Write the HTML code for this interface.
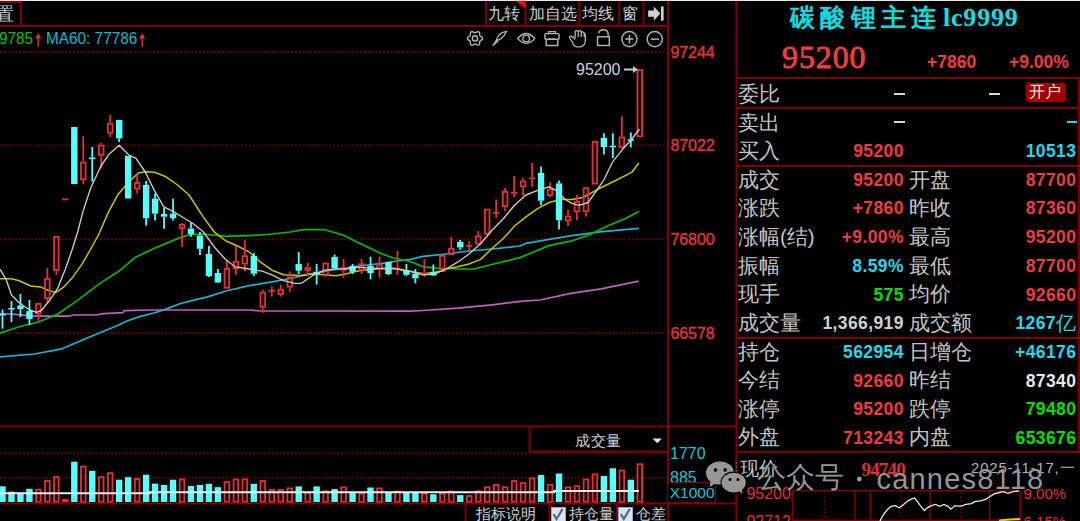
<!DOCTYPE html>
<html><head><meta charset="utf-8">
<style>
html,body{margin:0;padding:0;background:#000;}
body{width:1080px;height:521px;overflow:hidden;position:relative;font-family:"Liberation Sans",sans-serif;}
svg{position:absolute;left:0;top:0;}
.t{position:absolute;white-space:nowrap;line-height:1;}
.lb{color:#c4c4c4;font-size:20.5px;font-weight:200;}
.n{font-weight:bold;font-size:17.5px;letter-spacing:0.4px;}
.r{color:#f03c3c} .cy{color:#22d8f0} .g{color:#00e000} .w{color:#e8e8e8} .gy{color:#d0d0d0}
</style></head><body>
<svg width="1080" height="521" viewBox="0 0 1080 521">
<line x1="0" y1="52" x2="668" y2="52" stroke="#600000" stroke-width="1.9" stroke-dasharray="1.9 1.93"/>
<line x1="0" y1="145.5" x2="668" y2="145.5" stroke="#600000" stroke-width="1.9" stroke-dasharray="1.9 1.93"/>
<line x1="0" y1="239.3" x2="668" y2="239.3" stroke="#600000" stroke-width="1.9" stroke-dasharray="1.9 1.93"/>
<line x1="0" y1="333" x2="668" y2="333" stroke="#600000" stroke-width="1.9" stroke-dasharray="1.9 1.93"/>
<line x1="0" y1="453.3" x2="668" y2="453.3" stroke="#600000" stroke-width="1.9" stroke-dasharray="1.9 1.93"/>
<line x1="0" y1="477.8" x2="668" y2="477.8" stroke="#600000" stroke-width="1.9" stroke-dasharray="1.9 1.93"/>
<polyline points="0.0,356.8 34.5,354.0 62.0,348.8 92.0,336.0 118.8,325.0 126.9,321.0 140.3,316.4 153.8,313.0 164.5,309.6 180.6,303.5 194.0,300.2 207.5,296.9 226.0,291.0 249.0,285.7 272.0,281.8 290.0,278.5 313.0,273.4 336.0,269.5 359.0,266.0 382.0,263.3 393.6,261.5 410.0,259.5 423.0,256.4 446.0,254.0 469.0,251.0 492.0,249.0 520.0,246.0 526.0,243.3 549.0,239.4 572.0,235.7 600.0,231.8 638.8,228.3" fill="none" stroke="#1ab4d0" stroke-width="1.7" stroke-linejoin="round"/>
<polyline points="0.0,313.5 15.4,314.3 34.5,316.2 69.0,316.2 73.0,315.0 96.0,315.0 103.6,313.7 122.8,312.7 124.2,310.7 151.0,310.0 249.0,310.0 260.6,311.0 300.0,311.0 410.0,311.2 423.0,310.5 457.6,308.2 492.0,304.8 520.0,301.3 540.0,300.0 570.7,293.4 601.3,288.8 638.8,281.1" fill="none" stroke="#c060c0" stroke-width="1.7" stroke-linejoin="round"/>
<polyline points="0.0,333.2 19.2,326.8 38.4,322.0 57.6,314.3 76.8,300.9 100.0,283.4 118.8,271.3 135.0,257.6 154.5,248.2 177.6,238.6 189.0,234.9 203.0,234.0 226.0,236.4 249.0,235.7 272.0,234.0 290.0,232.0 303.8,229.7 324.5,229.7 343.0,235.0 359.0,243.0 382.0,254.0 393.6,258.0 410.0,261.5 423.0,266.8 434.5,268.0 457.6,269.0 473.7,269.0 492.0,264.5 520.0,257.6 549.0,245.6 570.7,241.2 589.0,235.0 607.5,226.0 626.0,218.2 638.8,211.5" fill="none" stroke="#00bc00" stroke-width="1.7" stroke-linejoin="round"/>
<polyline points="0.0,278.8 11.5,278.8 19.2,280.7 30.7,286.0 40.3,286.9 48.0,290.3 55.7,292.6 63.3,287.4 73.0,276.9 82.5,263.4 90.2,250.0 98.4,235.0 108.8,211.4 117.9,194.6 129.2,181.5 138.4,173.0 145.3,171.8 154.5,172.2 166.0,176.8 177.6,185.0 189.0,195.0 203.0,216.6 214.5,232.2 226.0,241.0 237.6,246.0 249.0,251.8 260.6,262.2 272.0,270.2 283.6,274.8 300.0,275.5 313.0,274.0 324.5,274.8 336.0,275.7 347.6,273.4 359.0,270.7 370.6,269.5 382.0,268.8 393.6,268.4 411.5,271.4 423.0,273.7 434.5,272.5 446.0,269.0 457.6,266.8 469.0,264.0 480.6,259.4 492.0,248.5 503.3,238.5 514.5,226.0 526.0,216.8 537.6,208.7 549.0,202.5 560.6,199.5 572.0,199.5 583.6,197.2 601.3,187.5 616.7,180.0 632.0,172.2 638.8,163.0" fill="none" stroke="#d0c000" stroke-width="1.5" stroke-linejoin="round"/>
<line x1="2.50" y1="309.5" x2="2.50" y2="314" stroke="#55ffff" stroke-width="1.8"/>
<line x1="2.50" y1="315.5" x2="2.50" y2="328.7" stroke="#55ffff" stroke-width="1.8"/>
<rect x="-0.70" y="314" width="6.4" height="1.6" fill="#55ffff"/>
<line x1="11.48" y1="301" x2="11.48" y2="308" stroke="#55ffff" stroke-width="1.8"/>
<line x1="11.48" y1="309.5" x2="11.48" y2="322" stroke="#55ffff" stroke-width="1.8"/>
<rect x="8.28" y="308" width="6.4" height="1.6" fill="#55ffff"/>
<line x1="20.45" y1="294" x2="20.45" y2="305.5" stroke="#55ffff" stroke-width="1.8"/>
<line x1="20.45" y1="309" x2="20.45" y2="317" stroke="#55ffff" stroke-width="1.8"/>
<rect x="17.25" y="305.5" width="6.4" height="3.5" fill="#55ffff"/>
<line x1="29.43" y1="300" x2="29.43" y2="311" stroke="#55ffff" stroke-width="1.8"/>
<line x1="29.43" y1="319" x2="29.43" y2="325" stroke="#55ffff" stroke-width="1.8"/>
<rect x="26.23" y="311" width="6.4" height="8.0" fill="#55ffff"/>
<line x1="38.40" y1="314.6" x2="38.40" y2="321" stroke="#e83030" stroke-width="1.8"/>
<rect x="36.10" y="303.9" width="4.6" height="9.8" fill="none" stroke="#e83030" stroke-width="1.8"/>
<line x1="47.38" y1="268" x2="47.38" y2="278" stroke="#e83030" stroke-width="1.8"/>
<line x1="47.38" y1="299" x2="47.38" y2="303" stroke="#e83030" stroke-width="1.8"/>
<rect x="45.08" y="278.9" width="4.6" height="19.2" fill="none" stroke="#e83030" stroke-width="1.8"/>
<line x1="56.36" y1="271" x2="56.36" y2="275" stroke="#e83030" stroke-width="1.8"/>
<rect x="54.06" y="236.9" width="4.6" height="33.2" fill="none" stroke="#e83030" stroke-width="1.8"/>
<rect x="62.13" y="198.5" width="6.4" height="1.8" fill="#e83030"/>
<rect x="71.11" y="127" width="6.4" height="57.0" fill="#55ffff"/>
<line x1="83.28" y1="136" x2="83.28" y2="161.7" stroke="#e83030" stroke-width="1.8"/>
<line x1="83.28" y1="180.3" x2="83.28" y2="184" stroke="#e83030" stroke-width="1.8"/>
<rect x="80.98" y="162.6" width="4.6" height="16.8" fill="none" stroke="#e83030" stroke-width="1.8"/>
<line x1="92.26" y1="147" x2="92.26" y2="157.5" stroke="#55ffff" stroke-width="1.8"/>
<line x1="92.26" y1="159" x2="92.26" y2="181.6" stroke="#55ffff" stroke-width="1.8"/>
<rect x="89.06" y="157.5" width="6.4" height="1.6" fill="#55ffff"/>
<line x1="101.24" y1="142.8" x2="101.24" y2="144.6" stroke="#e83030" stroke-width="1.8"/>
<line x1="101.24" y1="155.7" x2="101.24" y2="168.7" stroke="#e83030" stroke-width="1.8"/>
<rect x="98.94" y="145.5" width="4.6" height="9.3" fill="none" stroke="#e83030" stroke-width="1.8"/>
<line x1="110.21" y1="115" x2="110.21" y2="122.8" stroke="#e83030" stroke-width="1.8"/>
<line x1="110.21" y1="133.7" x2="110.21" y2="137" stroke="#e83030" stroke-width="1.8"/>
<rect x="107.91" y="123.7" width="4.6" height="9.1" fill="none" stroke="#e83030" stroke-width="1.8"/>
<line x1="119.19" y1="138.4" x2="119.19" y2="142" stroke="#55ffff" stroke-width="1.8"/>
<rect x="115.99" y="120" width="6.4" height="18.4" fill="#55ffff"/>
<rect x="124.96" y="155.7" width="6.4" height="42.8" fill="#55ffff"/>
<line x1="137.14" y1="174.5" x2="137.14" y2="182" stroke="#e83030" stroke-width="1.8"/>
<line x1="137.14" y1="189.5" x2="137.14" y2="193.4" stroke="#e83030" stroke-width="1.8"/>
<rect x="134.84" y="182.9" width="4.6" height="5.7" fill="none" stroke="#e83030" stroke-width="1.8"/>
<line x1="146.12" y1="181" x2="146.12" y2="185" stroke="#55ffff" stroke-width="1.8"/>
<line x1="146.12" y1="218.3" x2="146.12" y2="225.7" stroke="#55ffff" stroke-width="1.8"/>
<rect x="142.92" y="185" width="6.4" height="33.3" fill="#55ffff"/>
<line x1="155.09" y1="193.4" x2="155.09" y2="198.7" stroke="#55ffff" stroke-width="1.8"/>
<line x1="155.09" y1="213.7" x2="155.09" y2="220.6" stroke="#55ffff" stroke-width="1.8"/>
<rect x="151.89" y="198.7" width="6.4" height="15.0" fill="#55ffff"/>
<line x1="164.07" y1="208" x2="164.07" y2="214" stroke="#55ffff" stroke-width="1.8"/>
<line x1="164.07" y1="216.7" x2="164.07" y2="228.7" stroke="#55ffff" stroke-width="1.8"/>
<rect x="160.87" y="214" width="6.4" height="2.7" fill="#55ffff"/>
<line x1="173.04" y1="198.7" x2="173.04" y2="213.7" stroke="#55ffff" stroke-width="1.8"/>
<line x1="173.04" y1="218.3" x2="173.04" y2="220.6" stroke="#55ffff" stroke-width="1.8"/>
<rect x="169.84" y="213.7" width="6.4" height="4.6" fill="#55ffff"/>
<line x1="182.02" y1="223" x2="182.02" y2="224" stroke="#e83030" stroke-width="1.8"/>
<line x1="182.02" y1="229" x2="182.02" y2="247" stroke="#e83030" stroke-width="1.8"/>
<rect x="179.72" y="224.9" width="4.6" height="3.2" fill="none" stroke="#e83030" stroke-width="1.8"/>
<line x1="191.00" y1="223" x2="191.00" y2="228.5" stroke="#55ffff" stroke-width="1.8"/>
<line x1="191.00" y1="234" x2="191.00" y2="236.8" stroke="#55ffff" stroke-width="1.8"/>
<rect x="187.80" y="228.5" width="6.4" height="5.5" fill="#55ffff"/>
<line x1="199.97" y1="232" x2="199.97" y2="235.6" stroke="#55ffff" stroke-width="1.8"/>
<line x1="199.97" y1="248.8" x2="199.97" y2="255" stroke="#55ffff" stroke-width="1.8"/>
<rect x="196.77" y="235.6" width="6.4" height="13.2" fill="#55ffff"/>
<line x1="208.95" y1="246" x2="208.95" y2="254" stroke="#55ffff" stroke-width="1.8"/>
<line x1="208.95" y1="276" x2="208.95" y2="277" stroke="#55ffff" stroke-width="1.8"/>
<rect x="205.75" y="254" width="6.4" height="22.0" fill="#55ffff"/>
<line x1="217.92" y1="269" x2="217.92" y2="273" stroke="#55ffff" stroke-width="1.8"/>
<line x1="217.92" y1="282.5" x2="217.92" y2="283" stroke="#55ffff" stroke-width="1.8"/>
<rect x="214.72" y="273" width="6.4" height="9.5" fill="#55ffff"/>
<line x1="226.90" y1="260" x2="226.90" y2="268" stroke="#e83030" stroke-width="1.8"/>
<rect x="224.60" y="268.9" width="4.6" height="18.9" fill="none" stroke="#e83030" stroke-width="1.8"/>
<line x1="235.88" y1="246" x2="235.88" y2="261" stroke="#e83030" stroke-width="1.8"/>
<line x1="235.88" y1="269" x2="235.88" y2="274.8" stroke="#e83030" stroke-width="1.8"/>
<rect x="233.58" y="261.9" width="4.6" height="6.2" fill="none" stroke="#e83030" stroke-width="1.8"/>
<line x1="244.85" y1="240.3" x2="244.85" y2="255.3" stroke="#e83030" stroke-width="1.8"/>
<line x1="244.85" y1="264.5" x2="244.85" y2="271.4" stroke="#e83030" stroke-width="1.8"/>
<rect x="242.55" y="256.2" width="4.6" height="7.4" fill="none" stroke="#e83030" stroke-width="1.8"/>
<line x1="253.83" y1="253" x2="253.83" y2="255.7" stroke="#55ffff" stroke-width="1.8"/>
<line x1="253.83" y1="273.7" x2="253.83" y2="276" stroke="#55ffff" stroke-width="1.8"/>
<rect x="250.63" y="255.7" width="6.4" height="18.0" fill="#55ffff"/>
<line x1="262.80" y1="289.8" x2="262.80" y2="291.7" stroke="#e83030" stroke-width="1.8"/>
<line x1="262.80" y1="307.8" x2="262.80" y2="312.8" stroke="#e83030" stroke-width="1.8"/>
<rect x="260.50" y="292.6" width="4.6" height="14.3" fill="none" stroke="#e83030" stroke-width="1.8"/>
<line x1="271.78" y1="286.4" x2="271.78" y2="290" stroke="#e83030" stroke-width="1.8"/>
<line x1="271.78" y1="291.5" x2="271.78" y2="296.7" stroke="#e83030" stroke-width="1.8"/>
<rect x="268.58" y="290" width="6.4" height="1.8" fill="#e83030"/>
<line x1="280.76" y1="284.8" x2="280.76" y2="288.7" stroke="#e83030" stroke-width="1.8"/>
<line x1="280.76" y1="295" x2="280.76" y2="296.7" stroke="#e83030" stroke-width="1.8"/>
<rect x="278.46" y="289.6" width="4.6" height="4.5" fill="none" stroke="#e83030" stroke-width="1.8"/>
<line x1="289.73" y1="271.4" x2="289.73" y2="276.5" stroke="#e83030" stroke-width="1.8"/>
<line x1="289.73" y1="287.5" x2="289.73" y2="292" stroke="#e83030" stroke-width="1.8"/>
<rect x="287.43" y="277.4" width="4.6" height="9.2" fill="none" stroke="#e83030" stroke-width="1.8"/>
<line x1="298.71" y1="252" x2="298.71" y2="264" stroke="#55ffff" stroke-width="1.8"/>
<line x1="298.71" y1="270.7" x2="298.71" y2="274" stroke="#55ffff" stroke-width="1.8"/>
<rect x="295.51" y="264" width="6.4" height="6.7" fill="#55ffff"/>
<line x1="307.68" y1="262.6" x2="307.68" y2="267.2" stroke="#e83030" stroke-width="1.8"/>
<line x1="307.68" y1="271" x2="307.68" y2="275.3" stroke="#e83030" stroke-width="1.8"/>
<rect x="305.38" y="268.1" width="4.6" height="2.0" fill="none" stroke="#e83030" stroke-width="1.8"/>
<line x1="316.66" y1="263.8" x2="316.66" y2="271.8" stroke="#55ffff" stroke-width="1.8"/>
<line x1="316.66" y1="274.8" x2="316.66" y2="284.5" stroke="#55ffff" stroke-width="1.8"/>
<rect x="313.46" y="271.8" width="6.4" height="3.0" fill="#55ffff"/>
<rect x="323.34" y="263.5" width="4.6" height="12.0" fill="none" stroke="#e83030" stroke-width="1.8"/>
<line x1="334.61" y1="254.5" x2="334.61" y2="256.8" stroke="#55ffff" stroke-width="1.8"/>
<line x1="334.61" y1="268.4" x2="334.61" y2="269.5" stroke="#55ffff" stroke-width="1.8"/>
<rect x="331.41" y="256.8" width="6.4" height="11.6" fill="#55ffff"/>
<line x1="343.59" y1="259" x2="343.59" y2="267.2" stroke="#e83030" stroke-width="1.8"/>
<line x1="343.59" y1="270.7" x2="343.59" y2="277.6" stroke="#e83030" stroke-width="1.8"/>
<rect x="341.29" y="268.1" width="4.6" height="1.7" fill="none" stroke="#e83030" stroke-width="1.8"/>
<line x1="352.56" y1="264" x2="352.56" y2="266" stroke="#55ffff" stroke-width="1.8"/>
<line x1="352.56" y1="271.8" x2="352.56" y2="274" stroke="#55ffff" stroke-width="1.8"/>
<rect x="349.36" y="266" width="6.4" height="5.8" fill="#55ffff"/>
<line x1="361.54" y1="259" x2="361.54" y2="263.3" stroke="#e83030" stroke-width="1.8"/>
<line x1="361.54" y1="270.7" x2="361.54" y2="274" stroke="#e83030" stroke-width="1.8"/>
<rect x="359.24" y="264.2" width="4.6" height="5.6" fill="none" stroke="#e83030" stroke-width="1.8"/>
<line x1="370.52" y1="256.8" x2="370.52" y2="266" stroke="#55ffff" stroke-width="1.8"/>
<line x1="370.52" y1="273" x2="370.52" y2="279.4" stroke="#55ffff" stroke-width="1.8"/>
<rect x="367.32" y="266" width="6.4" height="7.0" fill="#55ffff"/>
<line x1="379.49" y1="256.4" x2="379.49" y2="264" stroke="#e83030" stroke-width="1.8"/>
<line x1="379.49" y1="269.5" x2="379.49" y2="277.6" stroke="#e83030" stroke-width="1.8"/>
<rect x="377.19" y="264.9" width="4.6" height="3.7" fill="none" stroke="#e83030" stroke-width="1.8"/>
<line x1="388.47" y1="274" x2="388.47" y2="275" stroke="#55ffff" stroke-width="1.8"/>
<rect x="385.27" y="262" width="6.4" height="12.0" fill="#55ffff"/>
<line x1="397.44" y1="251" x2="397.44" y2="267.5" stroke="#e83030" stroke-width="1.8"/>
<line x1="397.44" y1="269" x2="397.44" y2="275" stroke="#e83030" stroke-width="1.8"/>
<rect x="394.24" y="267.5" width="6.4" height="1.8" fill="#e83030"/>
<line x1="406.42" y1="264" x2="406.42" y2="270.5" stroke="#55ffff" stroke-width="1.8"/>
<line x1="406.42" y1="274.8" x2="406.42" y2="276" stroke="#55ffff" stroke-width="1.8"/>
<rect x="403.22" y="270.5" width="6.4" height="4.3" fill="#55ffff"/>
<line x1="415.40" y1="269" x2="415.40" y2="273.7" stroke="#55ffff" stroke-width="1.8"/>
<line x1="415.40" y1="278.3" x2="415.40" y2="283.4" stroke="#55ffff" stroke-width="1.8"/>
<rect x="412.20" y="273.7" width="6.4" height="4.6" fill="#55ffff"/>
<line x1="424.37" y1="259" x2="424.37" y2="272.5" stroke="#e83030" stroke-width="1.8"/>
<line x1="424.37" y1="274" x2="424.37" y2="277" stroke="#e83030" stroke-width="1.8"/>
<rect x="421.17" y="272.5" width="6.4" height="1.8" fill="#e83030"/>
<line x1="433.35" y1="264.5" x2="433.35" y2="271.8" stroke="#55ffff" stroke-width="1.8"/>
<line x1="433.35" y1="275.5" x2="433.35" y2="276" stroke="#55ffff" stroke-width="1.8"/>
<rect x="430.15" y="271.8" width="6.4" height="3.7" fill="#55ffff"/>
<rect x="440.02" y="255.9" width="4.6" height="15.2" fill="none" stroke="#e83030" stroke-width="1.8"/>
<line x1="451.30" y1="237" x2="451.30" y2="248" stroke="#e83030" stroke-width="1.8"/>
<rect x="449.00" y="248.9" width="4.6" height="5.5" fill="none" stroke="#e83030" stroke-width="1.8"/>
<line x1="460.28" y1="240" x2="460.28" y2="242" stroke="#55ffff" stroke-width="1.8"/>
<line x1="460.28" y1="247.5" x2="460.28" y2="249.8" stroke="#55ffff" stroke-width="1.8"/>
<rect x="457.08" y="242" width="6.4" height="5.5" fill="#55ffff"/>
<line x1="469.25" y1="241" x2="469.25" y2="245" stroke="#e83030" stroke-width="1.8"/>
<line x1="469.25" y1="246.5" x2="469.25" y2="250" stroke="#e83030" stroke-width="1.8"/>
<rect x="466.05" y="245" width="6.4" height="1.8" fill="#e83030"/>
<line x1="478.23" y1="231" x2="478.23" y2="235.4" stroke="#e83030" stroke-width="1.8"/>
<line x1="478.23" y1="244.6" x2="478.23" y2="245.6" stroke="#e83030" stroke-width="1.8"/>
<rect x="475.93" y="236.3" width="4.6" height="7.4" fill="none" stroke="#e83030" stroke-width="1.8"/>
<line x1="487.20" y1="234.5" x2="487.20" y2="235" stroke="#e83030" stroke-width="1.8"/>
<rect x="484.90" y="209.6" width="4.6" height="24.0" fill="none" stroke="#e83030" stroke-width="1.8"/>
<line x1="496.18" y1="199.5" x2="496.18" y2="212" stroke="#e83030" stroke-width="1.8"/>
<line x1="496.18" y1="213.5" x2="496.18" y2="218" stroke="#e83030" stroke-width="1.8"/>
<rect x="492.98" y="212" width="6.4" height="1.8" fill="#e83030"/>
<line x1="505.16" y1="188" x2="505.16" y2="191" stroke="#e83030" stroke-width="1.8"/>
<line x1="505.16" y1="207" x2="505.16" y2="211" stroke="#e83030" stroke-width="1.8"/>
<rect x="502.86" y="191.9" width="4.6" height="14.2" fill="none" stroke="#e83030" stroke-width="1.8"/>
<line x1="514.13" y1="175.8" x2="514.13" y2="192" stroke="#e83030" stroke-width="1.8"/>
<line x1="514.13" y1="193.5" x2="514.13" y2="197.2" stroke="#e83030" stroke-width="1.8"/>
<rect x="510.93" y="192" width="6.4" height="1.8" fill="#e83030"/>
<line x1="523.11" y1="178" x2="523.11" y2="180.6" stroke="#e83030" stroke-width="1.8"/>
<line x1="523.11" y1="187.3" x2="523.11" y2="196" stroke="#e83030" stroke-width="1.8"/>
<rect x="520.81" y="181.5" width="4.6" height="4.9" fill="none" stroke="#e83030" stroke-width="1.8"/>
<line x1="532.08" y1="162.7" x2="532.08" y2="177.5" stroke="#e83030" stroke-width="1.8"/>
<line x1="532.08" y1="179" x2="532.08" y2="186.8" stroke="#e83030" stroke-width="1.8"/>
<rect x="528.88" y="177.5" width="6.4" height="1.8" fill="#e83030"/>
<line x1="541.06" y1="166.6" x2="541.06" y2="173" stroke="#55ffff" stroke-width="1.8"/>
<line x1="541.06" y1="200.7" x2="541.06" y2="205.3" stroke="#55ffff" stroke-width="1.8"/>
<rect x="537.86" y="173" width="6.4" height="27.7" fill="#55ffff"/>
<line x1="550.04" y1="182.2" x2="550.04" y2="188.7" stroke="#e83030" stroke-width="1.8"/>
<line x1="550.04" y1="196" x2="550.04" y2="197.2" stroke="#e83030" stroke-width="1.8"/>
<rect x="547.74" y="189.6" width="4.6" height="5.5" fill="none" stroke="#e83030" stroke-width="1.8"/>
<line x1="559.01" y1="180.4" x2="559.01" y2="183.4" stroke="#55ffff" stroke-width="1.8"/>
<line x1="559.01" y1="220.2" x2="559.01" y2="229.5" stroke="#55ffff" stroke-width="1.8"/>
<rect x="555.81" y="183.4" width="6.4" height="36.8" fill="#55ffff"/>
<line x1="567.99" y1="209.4" x2="567.99" y2="215.6" stroke="#e83030" stroke-width="1.8"/>
<line x1="567.99" y1="221.4" x2="567.99" y2="226" stroke="#e83030" stroke-width="1.8"/>
<rect x="565.69" y="216.5" width="4.6" height="4.0" fill="none" stroke="#e83030" stroke-width="1.8"/>
<line x1="576.96" y1="195" x2="576.96" y2="201" stroke="#e83030" stroke-width="1.8"/>
<line x1="576.96" y1="212.2" x2="576.96" y2="220.2" stroke="#e83030" stroke-width="1.8"/>
<rect x="574.66" y="201.9" width="4.6" height="9.4" fill="none" stroke="#e83030" stroke-width="1.8"/>
<line x1="585.94" y1="212.2" x2="585.94" y2="216.8" stroke="#e83030" stroke-width="1.8"/>
<rect x="583.64" y="188.2" width="4.6" height="23.1" fill="none" stroke="#e83030" stroke-width="1.8"/>
<rect x="592.62" y="141.9" width="4.6" height="41.7" fill="none" stroke="#e83030" stroke-width="1.8"/>
<line x1="603.89" y1="133.2" x2="603.89" y2="137.8" stroke="#55ffff" stroke-width="1.8"/>
<line x1="603.89" y1="147" x2="603.89" y2="154.4" stroke="#55ffff" stroke-width="1.8"/>
<rect x="600.69" y="137.8" width="6.4" height="9.2" fill="#55ffff"/>
<line x1="612.87" y1="133.2" x2="612.87" y2="145.7" stroke="#55ffff" stroke-width="1.8"/>
<line x1="612.87" y1="147.2" x2="612.87" y2="158" stroke="#55ffff" stroke-width="1.8"/>
<rect x="609.67" y="145.7" width="6.4" height="1.6" fill="#55ffff"/>
<line x1="621.84" y1="116.4" x2="621.84" y2="136.5" stroke="#e83030" stroke-width="1.8"/>
<rect x="619.54" y="137.4" width="4.6" height="9.7" fill="none" stroke="#e83030" stroke-width="1.8"/>
<line x1="630.82" y1="132.5" x2="630.82" y2="139.3" stroke="#55ffff" stroke-width="1.8"/>
<line x1="630.82" y1="140.8" x2="630.82" y2="147.5" stroke="#55ffff" stroke-width="1.8"/>
<rect x="627.62" y="139.3" width="6.4" height="1.6" fill="#55ffff"/>
<rect x="637.50" y="70.1" width="4.6" height="66.2" fill="none" stroke="#e83030" stroke-width="1.8"/>
<polyline points="0.0,269.2 5.8,278.8 11.5,295.0 19.2,302.8 28.8,309.5 36.5,312.4 41.3,310.5 50.0,300.0 57.6,288.4 65.3,269.2 72.0,250.0 77.7,232.0 83.0,211.4 90.7,188.0 101.0,166.0 108.8,154.4 119.2,145.3 129.0,155.0 136.0,158.4 145.3,172.0 154.5,190.7 163.8,206.8 173.0,211.4 182.2,217.0 193.0,223.5 203.0,231.5 214.5,247.2 226.0,260.0 235.3,266.8 249.0,269.0 263.0,271.4 272.0,274.8 283.6,280.6 295.0,283.4 301.5,283.3 313.0,275.3 324.5,270.2 336.0,268.8 347.6,268.8 359.0,267.2 370.6,268.4 382.0,268.4 393.6,268.4 410.0,271.4 423.0,274.8 434.5,274.2 446.0,269.0 457.6,262.2 469.0,254.0 480.6,243.8 492.0,230.3 503.3,218.8 514.5,205.3 526.0,195.0 537.6,190.3 549.0,186.8 556.0,190.3 565.2,199.5 572.0,203.4 579.0,205.3 588.2,202.5 600.0,185.7 603.8,180.0 613.0,161.3 622.2,149.8 631.4,139.5 639.5,129.0" fill="none" stroke="#cccccc" stroke-width="1.35" stroke-linejoin="round"/>
<rect x="-0.70" y="486.3" width="6.4" height="15.7" fill="#55ffff"/>
<rect x="8.28" y="491.7" width="6.4" height="10.3" fill="#55ffff"/>
<rect x="17.25" y="493.3" width="6.4" height="8.7" fill="#55ffff"/>
<rect x="26.23" y="488.8" width="6.4" height="13.2" fill="#55ffff"/>
<rect x="36.10" y="489.7" width="4.6" height="12.3" fill="none" stroke="#e83030" stroke-width="1.8"/>
<rect x="45.08" y="480.9" width="4.6" height="21.1" fill="none" stroke="#e83030" stroke-width="1.8"/>
<rect x="54.06" y="477.1" width="4.6" height="24.9" fill="none" stroke="#e83030" stroke-width="1.8"/>
<rect x="62.13" y="499" width="6.4" height="3.0" fill="#e83030"/>
<rect x="71.11" y="461.7" width="6.4" height="40.3" fill="#55ffff"/>
<rect x="80.98" y="466.6" width="4.6" height="35.4" fill="none" stroke="#e83030" stroke-width="1.8"/>
<rect x="89.06" y="470.8" width="6.4" height="31.2" fill="#55ffff"/>
<rect x="98.94" y="477.1" width="4.6" height="24.9" fill="none" stroke="#e83030" stroke-width="1.8"/>
<rect x="107.91" y="473.2" width="4.6" height="28.8" fill="none" stroke="#e83030" stroke-width="1.8"/>
<rect x="115.99" y="479.7" width="6.4" height="22.3" fill="#55ffff"/>
<rect x="124.96" y="477.2" width="6.4" height="24.8" fill="#55ffff"/>
<rect x="134.84" y="479.0" width="4.6" height="23.0" fill="none" stroke="#e83030" stroke-width="1.8"/>
<rect x="142.92" y="474.7" width="6.4" height="27.3" fill="#55ffff"/>
<rect x="151.89" y="483.6" width="6.4" height="18.4" fill="#55ffff"/>
<rect x="160.87" y="485" width="6.4" height="17.0" fill="#55ffff"/>
<rect x="169.84" y="479.7" width="6.4" height="22.3" fill="#55ffff"/>
<rect x="179.72" y="479.5" width="4.6" height="22.5" fill="none" stroke="#e83030" stroke-width="1.8"/>
<rect x="187.80" y="486" width="6.4" height="16.0" fill="#55ffff"/>
<rect x="196.77" y="484.9" width="6.4" height="17.1" fill="#55ffff"/>
<rect x="205.75" y="483.8" width="6.4" height="18.2" fill="#55ffff"/>
<rect x="214.72" y="487.2" width="6.4" height="14.8" fill="#55ffff"/>
<rect x="224.60" y="482.1" width="4.6" height="19.9" fill="none" stroke="#e83030" stroke-width="1.8"/>
<rect x="233.58" y="479.5" width="4.6" height="22.5" fill="none" stroke="#e83030" stroke-width="1.8"/>
<rect x="242.55" y="479.5" width="4.6" height="22.5" fill="none" stroke="#e83030" stroke-width="1.8"/>
<rect x="250.63" y="483.8" width="6.4" height="18.2" fill="#55ffff"/>
<rect x="260.50" y="481.0" width="4.6" height="21.0" fill="none" stroke="#e83030" stroke-width="1.8"/>
<rect x="269.48" y="490.0" width="4.6" height="12.0" fill="none" stroke="#e83030" stroke-width="1.8"/>
<rect x="278.46" y="490.0" width="4.6" height="12.0" fill="none" stroke="#e83030" stroke-width="1.8"/>
<rect x="287.43" y="488.4" width="4.6" height="13.6" fill="none" stroke="#e83030" stroke-width="1.8"/>
<rect x="295.51" y="486.4" width="6.4" height="15.6" fill="#55ffff"/>
<rect x="305.38" y="492.9" width="4.6" height="9.1" fill="none" stroke="#e83030" stroke-width="1.8"/>
<rect x="313.46" y="486.4" width="6.4" height="15.6" fill="#55ffff"/>
<rect x="323.34" y="491.3" width="4.6" height="10.7" fill="none" stroke="#e83030" stroke-width="1.8"/>
<rect x="331.41" y="489.1" width="6.4" height="12.9" fill="#55ffff"/>
<rect x="341.29" y="487.3" width="4.6" height="14.7" fill="none" stroke="#e83030" stroke-width="1.8"/>
<rect x="349.36" y="492.7" width="6.4" height="9.3" fill="#55ffff"/>
<rect x="359.24" y="493.6" width="4.6" height="8.4" fill="none" stroke="#e83030" stroke-width="1.8"/>
<rect x="367.32" y="487.5" width="6.4" height="14.5" fill="#55ffff"/>
<rect x="377.19" y="488.4" width="4.6" height="13.6" fill="none" stroke="#e83030" stroke-width="1.8"/>
<rect x="385.27" y="492.3" width="6.4" height="9.7" fill="#55ffff"/>
<rect x="395.14" y="491.6" width="4.6" height="10.4" fill="none" stroke="#e83030" stroke-width="1.8"/>
<rect x="403.22" y="492.3" width="6.4" height="9.7" fill="#55ffff"/>
<rect x="412.20" y="492.3" width="6.4" height="9.7" fill="#55ffff"/>
<rect x="422.07" y="493.6" width="4.6" height="8.4" fill="none" stroke="#e83030" stroke-width="1.8"/>
<rect x="430.15" y="494.3" width="6.4" height="7.7" fill="#55ffff"/>
<rect x="440.02" y="493.6" width="4.6" height="8.4" fill="none" stroke="#e83030" stroke-width="1.8"/>
<rect x="449.00" y="491.6" width="4.6" height="10.4" fill="none" stroke="#e83030" stroke-width="1.8"/>
<rect x="457.08" y="495.1" width="6.4" height="6.9" fill="#55ffff"/>
<rect x="466.95" y="496.0" width="4.6" height="6.0" fill="none" stroke="#e83030" stroke-width="1.8"/>
<rect x="475.93" y="491.3" width="4.6" height="10.7" fill="none" stroke="#e83030" stroke-width="1.8"/>
<rect x="484.90" y="487.3" width="4.6" height="14.7" fill="none" stroke="#e83030" stroke-width="1.8"/>
<rect x="493.88" y="484.9" width="4.6" height="17.1" fill="none" stroke="#e83030" stroke-width="1.8"/>
<rect x="502.86" y="487.3" width="4.6" height="14.7" fill="none" stroke="#e83030" stroke-width="1.8"/>
<rect x="511.83" y="481.0" width="4.6" height="21.0" fill="none" stroke="#e83030" stroke-width="1.8"/>
<rect x="520.81" y="483.1" width="4.6" height="18.9" fill="none" stroke="#e83030" stroke-width="1.8"/>
<rect x="529.78" y="478.4" width="4.6" height="23.6" fill="none" stroke="#e83030" stroke-width="1.8"/>
<rect x="537.86" y="475" width="6.4" height="27.0" fill="#55ffff"/>
<rect x="547.74" y="484.7" width="4.6" height="17.3" fill="none" stroke="#e83030" stroke-width="1.8"/>
<rect x="555.81" y="473.5" width="6.4" height="28.5" fill="#55ffff"/>
<rect x="565.69" y="487.3" width="4.6" height="14.7" fill="none" stroke="#e83030" stroke-width="1.8"/>
<rect x="574.66" y="486.2" width="4.6" height="15.8" fill="none" stroke="#e83030" stroke-width="1.8"/>
<rect x="583.64" y="479.5" width="4.6" height="22.5" fill="none" stroke="#e83030" stroke-width="1.8"/>
<rect x="592.62" y="474.4" width="4.6" height="27.6" fill="none" stroke="#e83030" stroke-width="1.8"/>
<rect x="600.69" y="475.9" width="6.4" height="26.1" fill="#55ffff"/>
<rect x="609.67" y="468.3" width="6.4" height="33.7" fill="#55ffff"/>
<rect x="619.54" y="470.5" width="4.6" height="31.5" fill="none" stroke="#e83030" stroke-width="1.8"/>
<rect x="627.62" y="479.7" width="6.4" height="22.3" fill="#55ffff"/>
<rect x="637.50" y="464.2" width="4.6" height="37.8" fill="none" stroke="#e83030" stroke-width="1.8"/>
<polyline points="0,493.3 150,493.3 150,492.3 554,492.3 554,491 639,491" fill="none" stroke="#f0f0f0" stroke-width="2"/>
<line x1="624" y1="69.5" x2="636" y2="69.5" stroke="#c8c8c8" stroke-width="2"/><path d="M633,66 L638,69.5 L633,73 Z" fill="#c8c8c8"/>
<rect x="0" y="0" width="1080" height="1" fill="#e8e8e8"/>
<line x1="0" y1="26" x2="668" y2="26" stroke="#800000" stroke-width="2"/>
<line x1="21" y1="1" x2="21" y2="26" stroke="#800000" stroke-width="2"/>
<line x1="0" y1="2" x2="21" y2="2" stroke="#800000" stroke-width="2"/>
<line x1="486" y1="1" x2="486" y2="26" stroke="#800000" stroke-width="2"/>
<line x1="525.5" y1="1" x2="525.5" y2="26" stroke="#800000" stroke-width="2"/>
<line x1="579.4" y1="1" x2="579.4" y2="26" stroke="#800000" stroke-width="2"/>
<line x1="619.3" y1="1" x2="619.3" y2="26" stroke="#800000" stroke-width="2"/>
<line x1="643.5" y1="1" x2="643.5" y2="26" stroke="#800000" stroke-width="2"/>
<line x1="668" y1="1" x2="668" y2="521" stroke="#800000" stroke-width="2"/>
<line x1="736.3" y1="1" x2="736.3" y2="521" stroke="#800000" stroke-width="2"/>
<line x1="1078.8" y1="78" x2="1078.8" y2="452" stroke="#800000" stroke-width="2"/>
<line x1="736" y1="78" x2="1080" y2="78" stroke="#800000" stroke-width="2"/>
<line x1="736" y1="108" x2="1080" y2="108" stroke="#800000" stroke-width="2"/>
<line x1="736" y1="166" x2="1080" y2="166" stroke="#800000" stroke-width="2"/>
<line x1="736" y1="338" x2="1080" y2="338" stroke="#800000" stroke-width="2"/>
<line x1="736" y1="452" x2="1080" y2="452" stroke="#800000" stroke-width="2"/>
<line x1="0" y1="426.5" x2="736" y2="426.5" stroke="#800000" stroke-width="2"/>
<line x1="529.6" y1="426.5" x2="529.6" y2="452" stroke="#800000" stroke-width="2"/>
<line x1="529.6" y1="451.8" x2="668" y2="451.8" stroke="#800000" stroke-width="2"/>
<line x1="0" y1="503.5" x2="736" y2="503.5" stroke="#800000" stroke-width="2"/>
<line x1="465.5" y1="502.5" x2="465.5" y2="521" stroke="#800000" stroke-width="2"/>
<line x1="549.5" y1="502.5" x2="549.5" y2="521" stroke="#800000" stroke-width="2"/>
<line x1="617" y1="502.5" x2="617" y2="521" stroke="#800000" stroke-width="2"/>
<path d="M516,1 L525.5,1 L525.5,9 Z" fill="#ff0000"/>
<polyline points="482.60,38.40 482.44,39.05 481.99,39.63 481.38,40.11 480.73,40.49 480.20,40.82 479.85,41.20 479.70,41.69 479.67,42.32 479.67,43.07 479.56,43.84 479.28,44.52 478.80,44.98 478.16,45.17 477.43,45.07 476.71,44.78 476.06,44.41 475.50,44.11 475.00,44.00 474.50,44.11 473.94,44.41 473.29,44.78 472.57,45.07 471.84,45.17 471.20,44.98 470.72,44.52 470.44,43.84 470.33,43.07 470.33,42.32 470.30,41.69 470.15,41.20 469.80,40.82 469.27,40.49 468.62,40.11 468.01,39.63 467.56,39.05 467.40,38.40 467.56,37.75 468.01,37.17 468.62,36.69 469.27,36.31 469.80,35.98 470.15,35.60 470.30,35.11 470.33,34.48 470.33,33.73 470.44,32.96 470.72,32.28 471.20,31.82 471.84,31.63 472.57,31.73 473.29,32.02 473.94,32.39 474.50,32.69 475.00,32.80 475.50,32.69 476.06,32.39 476.71,32.02 477.43,31.73 478.16,31.63 478.80,31.82 479.28,32.28 479.56,32.96 479.67,33.73 479.67,34.48 479.70,35.11 479.85,35.60 480.20,35.98 480.73,36.31 481.38,36.69 481.99,37.17 482.44,37.75 482.60,38.40" fill="none" stroke="#b4b4b4" stroke-width="1.4"/>
<circle cx="475" cy="38.4" r="2.6" fill="none" stroke="#b4b4b4" stroke-width="1.4"/>
<path d="M506.6,31.3 C502,32 497.5,35 496.5,40 C499,41 504,37.5 506.6,31.3 Z" fill="none" stroke="#b4b4b4" stroke-width="1.3"/>
<path d="M492.6,45.8 L496.5,40 L498,41 Z" fill="#b4b4b4" stroke="#b4b4b4" stroke-width="1.2"/>
<path d="M517.6,38.4 Q526.2,28.5 534.8,38.4 Q526.2,48.3 517.6,38.4 Z" fill="none" stroke="#b4b4b4" stroke-width="1.4"/>
<circle cx="526.2" cy="38.4" r="3.3" fill="none" stroke="#b4b4b4" stroke-width="1.4"/>
<path d="M548.8,33.6 V31.6 H555.4 V33.6" fill="none" stroke="#b4b4b4" stroke-width="1.3"/>
<rect x="544.9" y="33.6" width="14.2" height="5.6" rx="1" fill="none" stroke="#b4b4b4" stroke-width="1.4"/>
<path d="M546.2,39.2 V45.5 H557.8 V39.2" fill="none" stroke="#b4b4b4" stroke-width="1.4"/>
<circle cx="550" cy="39.2" r="1.1" fill="#b4b4b4"/><circle cx="553.6" cy="39.2" r="1.1" fill="#b4b4b4"/>
<path d="M575.2,38 V31.5 Q576.7,29.6 578.2,31.5 V37 M578.2,31.5 Q579.7,29.6 581.2,31.5 V37 M581.2,32.3 Q582.7,31 584.2,33 V37 M575.2,38 V31.5 M584.2,33 Q585.5,33.5 585.3,36 V41 Q584.5,46.6 580,46.8 H576.5 Q574,46.5 572.5,42.5 L569.6,37.5 Q569.8,35.5 572,36.3 L575.2,39.5" fill="none" stroke="#b4b4b4" stroke-width="1.3" stroke-linejoin="round"/>
<path d="M598.6,33.2 Q599.5,29.8 603.3,29.8 Q607.6,29.8 608.1,33.5 V36.6" fill="none" stroke="#b4b4b4" stroke-width="1.4"/>
<rect x="597.5" y="36.8" width="11.8" height="8.7" fill="none" stroke="#b4b4b4" stroke-width="1.4"/>
<circle cx="629.4" cy="39.1" r="7.6" fill="none" stroke="#b4b4b4" stroke-width="1.4"/>
<path d="M625.3,39.1 H633.5 M629.4,35 V43.2" stroke="#b4b4b4" stroke-width="1.5"/>
<circle cx="654.8" cy="39.1" r="7.6" fill="none" stroke="#b4b4b4" stroke-width="1.4"/>
<path d="M650.7,39.1 H658.9" stroke="#b4b4b4" stroke-width="1.5"/>
<path d="M648.1,10.5 H653.8 V6.4 L660.3,13.5 L653.8,20.7 V16.7 H648.1 Z" fill="#d2d2d2"/><rect x="661" y="6.4" width="2.6" height="14.3" fill="#d2d2d2"/>
</svg>
<div class="t gy" style="left:-4.5px;top:5px;font-size:18px;">置</div>
<div class="t gy" style="left:488px;top:5.5px;font-size:16px;">九转</div>
<div class="t gy" style="left:528.5px;top:5.5px;font-size:16px;">加自选</div>
<div class="t gy" style="left:582px;top:5.5px;font-size:16px;">均线</div>
<div class="t gy" style="left:622px;top:5.5px;font-size:16px;">窗</div>
<div class="t " style="left:-1.5px;top:29.5px;font-size:16.5px;color:#00c000;transform:scaleX(0.93);transform-origin:0 0;">9785</div>
<div class="t " style="left:46px;top:29.5px;font-size:16.5px;color:#10b8d4;transform:scaleX(0.93);transform-origin:0 0;">MA60: 77786</div>
<svg style="position:absolute;left:0;top:0" width="200" height="60"><path d="M38.2,36 V47 M142.2,36 V47" stroke="#c82828" stroke-width="1.6"/><path d="M35,38.5 L38.2,33.3 L41.4,38.5 Z M139,38.5 L142.2,33.3 L145.4,38.5 Z" fill="#e03030"/></svg>
<div class="t " style="left:670.5px;top:44.6px;font-size:16px;letter-spacing:-0.1px;-webkit-text-stroke:0.5px #dc3434;color:#dc3434;">97244</div>
<div class="t " style="left:670.5px;top:138.1px;font-size:16px;letter-spacing:-0.1px;-webkit-text-stroke:0.5px #dc3434;color:#dc3434;">87022</div>
<div class="t " style="left:670.5px;top:231.9px;font-size:16px;letter-spacing:-0.1px;-webkit-text-stroke:0.5px #dc3434;color:#dc3434;">76800</div>
<div class="t " style="left:670.5px;top:325.6px;font-size:16px;letter-spacing:-0.1px;-webkit-text-stroke:0.5px #dc3434;color:#dc3434;">66578</div>
<div class="t " style="left:576px;top:62px;font-size:16px;color:#c8d0e0;">95200</div>
<div class="t " style="left:670px;top:445.5px;font-size:16px;color:#10c8dc;">1770</div>
<div class="t " style="left:670px;top:469.5px;font-size:16px;color:#10c8dc;">885</div>
<div style="position:absolute;left:668px;top:482px;width:47px;height:19px;background:#000;border:1.5px solid #800000;border-left:none"></div>
<div class="t " style="left:669.7px;top:485.2px;font-size:15.5px;color:#10c8dc;">X1000</div>
<svg style="position:absolute;left:0;top:0" width="1080" height="521"><path d="M652.5,438.6 H662 L657.25,443.2 Z" fill="#e0e0e0"/></svg>
<div style="position:absolute;left:550.5px;top:507px;width:13px;height:15px;background:#dde2ea;border:1.2px solid #98acd0"></div>
<svg style="position:absolute;left:0;top:0" width="1080" height="521"><path d="M553.5,514 L556.5,519 L562.5,509" fill="none" stroke="#4a6a90" stroke-width="2.2"/></svg>
<div style="position:absolute;left:617.8px;top:507px;width:13px;height:15px;background:#dde2ea;border:1.2px solid #98acd0"></div>
<svg style="position:absolute;left:0;top:0" width="1080" height="521"><path d="M620.8,514 L623.8,519 L629.8,509" fill="none" stroke="#4a6a90" stroke-width="2.2"/></svg>
<div class="t gy" style="left:575px;top:433px;font-size:15px;letter-spacing:0.5px;">成交量</div>
<div class="t gy" style="left:476px;top:506px;font-size:15px;">指标说明</div>
<div class="t gy" style="left:569px;top:506px;font-size:15px;">持仓量</div>
<div class="t gy" style="left:636px;top:506px;font-size:15px;">仓差</div>
<div class="t " style="left:790px;top:4.5px;font-family:'Liberation Serif',serif;color:#10e0e8;"><span style="letter-spacing:5.3px;font-weight:500;font-size:25px;-webkit-text-stroke:0.8px #10e0e8">碳酸锂主连</span></div>
<div class="t " style="left:943px;top:4.5px;font-family:'Liberation Serif',serif;font-size:26px;font-weight:bold;color:#10e0e8;"><span style="letter-spacing:0.8px">lc9999</span></div>
<div class="t r" style="left:782px;top:41.3px;font-family:'Liberation Serif',serif;font-size:32px;font-weight:normal;letter-spacing:0.9px;-webkit-text-stroke:0.9px #f03c3c;">95200</div>
<div class="t r n" style="left:927px;top:53.7px;letter-spacing:0.05px;">+7860</div>
<div class="t r n" style="left:1009px;top:53.7px;letter-spacing:0px;">+9.00%</div>
<div class="t lb" style="left:738px;top:84.0px;">委比</div>
<div class="t lb" style="left:738px;top:112.62px;">卖出</div>
<div class="t lb" style="left:738px;top:141.24px;">买入</div>
<div class="t n r" style="left:0px;top:143.0px;width:903.9px;text-align:right;">95200</div>
<div class="t n cy" style="left:0px;top:143.0px;width:1076.4px;text-align:right;">10513</div>
<div class="t lb" style="left:738px;top:169.86px;">成交</div>
<div class="t n r" style="left:0px;top:171.7px;width:903.9px;text-align:right;">95200</div>
<div class="t lb" style="left:909px;top:169.86px;">开盘</div>
<div class="t n r" style="left:0px;top:171.7px;width:1076.4px;text-align:right;">87700</div>
<div class="t lb" style="left:738px;top:198.48000000000002px;">涨跌</div>
<div class="t n r" style="left:0px;top:200.4px;width:903.9px;text-align:right;">+7860</div>
<div class="t lb" style="left:909px;top:198.48000000000002px;">昨收</div>
<div class="t n r" style="left:0px;top:200.4px;width:1076.4px;text-align:right;">87360</div>
<div class="t lb" style="left:738px;top:227.1px;">涨幅(结)</div>
<div class="t n r" style="left:0px;top:229.10000000000002px;width:903.9px;text-align:right;">+9.00%</div>
<div class="t lb" style="left:909px;top:227.1px;">最高</div>
<div class="t n r" style="left:0px;top:229.10000000000002px;width:1076.4px;text-align:right;">95200</div>
<div class="t lb" style="left:738px;top:255.72000000000003px;">振幅</div>
<div class="t n cy" style="left:0px;top:257.8px;width:903.9px;text-align:right;">8.59%</div>
<div class="t lb" style="left:909px;top:255.72000000000003px;">最低</div>
<div class="t n r" style="left:0px;top:257.8px;width:1076.4px;text-align:right;">87700</div>
<div class="t lb" style="left:738px;top:284.34000000000003px;">现手</div>
<div class="t n g" style="left:0px;top:286.5px;width:903.9px;text-align:right;">575</div>
<div class="t lb" style="left:909px;top:284.34000000000003px;">均价</div>
<div class="t n r" style="left:0px;top:286.5px;width:1076.4px;text-align:right;">92660</div>
<div class="t lb" style="left:738px;top:312.96000000000004px;">成交量</div>
<div class="t n gy" style="left:0px;top:315.2px;width:903.9px;text-align:right;">1,366,919</div>
<div class="t lb" style="left:909px;top:312.96000000000004px;">成交额</div>
<div class="t n cy" style="left:0px;top:315.2px;width:1076.4px;text-align:right;">1267<span style="font-weight:300;font-size:20px;line-height:0;position:relative;top:1px">亿</span></div>
<div class="t lb" style="left:738px;top:341.58px;">持仓</div>
<div class="t n cy" style="left:0px;top:343.90000000000003px;width:903.9px;text-align:right;">562954</div>
<div class="t lb" style="left:909px;top:341.58px;">日增仓</div>
<div class="t n cy" style="left:0px;top:343.90000000000003px;width:1076.4px;text-align:right;">+46176</div>
<div class="t lb" style="left:738px;top:370.2px;">今结</div>
<div class="t n r" style="left:0px;top:372.6px;width:903.9px;text-align:right;">92660</div>
<div class="t lb" style="left:909px;top:370.2px;">昨结</div>
<div class="t n w" style="left:0px;top:372.6px;width:1076.4px;text-align:right;">87340</div>
<div class="t lb" style="left:738px;top:398.82px;">涨停</div>
<div class="t n r" style="left:0px;top:401.3px;width:903.9px;text-align:right;">95200</div>
<div class="t lb" style="left:909px;top:398.82px;">跌停</div>
<div class="t n g" style="left:0px;top:401.3px;width:1076.4px;text-align:right;">79480</div>
<div class="t lb" style="left:738px;top:427.44px;">外盘</div>
<div class="t n r" style="left:0px;top:430.0px;width:903.9px;text-align:right;">713243</div>
<div class="t lb" style="left:909px;top:427.44px;">内盘</div>
<div class="t n g" style="left:0px;top:430.0px;width:1076.4px;text-align:right;">653676</div>
<div style="position:absolute;left:894px;top:93.3px;width:11px;height:2px;background:#d8d8d8"></div>
<div style="position:absolute;left:989px;top:93.3px;width:11px;height:2px;background:#d8d8d8"></div>
<div style="position:absolute;left:894px;top:121px;width:11px;height:2px;background:#d8d8d8"></div>
<div style="position:absolute;left:1066.5px;top:121px;width:10.5px;height:2px;background:#22d8f0"></div>
<div style="position:absolute;left:1025.6px;top:82.6px;width:40.7px;height:19.4px;background:#a00000;border-radius:3px"></div>
<div class="t " style="left:1029px;top:84px;font-size:16px;color:#f0f0f0;">开户</div>
<div class="t lb" style="left:740px;top:459.5px;font-size:18.5px;">现价</div>
<div class="t " style="left:861.5px;top:460px;font-family:'Liberation Serif',serif;font-weight:bold;font-size:19px;letter-spacing:-0.8px;color:#e03030;">94740</div>
<div class="t " style="left:971px;top:460.3px;font-size:15px;letter-spacing:0.8px;color:#a8b4c8;">2025-11-17,一</div>
<div class="t " style="left:746.4px;top:485.7px;font-size:16px;color:#e03030;">95200</div>
<div class="t " style="left:1023.6px;top:486px;font-size:15px;color:#e03030;">9.00%</div>
<div class="t " style="left:746.4px;top:514px;font-size:16px;color:#e03030;">92712</div>
<div class="t " style="left:1023.6px;top:514px;font-size:15px;color:#e03030;">6.15%</div>
<svg style="position:absolute;left:0;top:0" width="1080" height="521"><rect x="792.5" y="490.6" width="227.8" height="29.7" fill="none" stroke="#800000" stroke-width="1.5"/><line x1="855" y1="490.6" x2="855" y2="521" stroke="#800000" stroke-width="1.5"/><line x1="870.3" y1="490.6" x2="870.3" y2="521" stroke="#800000" stroke-width="1.5"/><line x1="930" y1="490.6" x2="930" y2="521" stroke="#800000" stroke-width="1.5"/><line x1="989.7" y1="490.6" x2="989.7" y2="521" stroke="#800000" stroke-width="1.5"/><line x1="824.4" y1="492" x2="824.4" y2="521" stroke="#800000" stroke-width="1.2" stroke-dasharray="1.5 2.5"/><line x1="900.8" y1="492" x2="900.8" y2="521" stroke="#800000" stroke-width="1.2" stroke-dasharray="1.5 2.5"/><line x1="960.5" y1="492" x2="960.5" y2="521" stroke="#800000" stroke-width="1.2" stroke-dasharray="1.5 2.5"/><polyline points="880,521 882.8,515.6 887,510 891,506.4 895.3,505.6 899.4,507.8 903.6,504.4 907.8,500.8 912,498.9 914.7,498 917.5,501.7 920.3,505.6 924.4,510.6 927.2,507.8 931.4,505.6 935.6,504.4 939.7,506.4 943.9,504.4 948,506.4 950.8,509.2 955,505.6 960.6,506.4 966,504.4 971.7,503.6 974.4,501.7 980,500.8 985.6,499.4 989.7,496.7 994,493.9 999.4,492.5 1003.6,491.7 1007.8,493.3 1013.3,491.7 1019,491" fill="none" stroke="#e8e8e8" stroke-width="1.3"/><polyline points="999,520.5 1010,519.5 1020,519" fill="none" stroke="#d8d000" stroke-width="2"/></svg>
<svg style="position:absolute;left:0;top:0" width="1080" height="521"><g opacity="0.95"><ellipse cx="720" cy="473" rx="14" ry="11.6" fill="#a0a0a0"/><path d="M710,482 L709.8,487 L715.5,483.5 Z" fill="#a0a0a0"/><circle cx="715.5" cy="469.9" r="1.8" fill="#000"/><circle cx="725.2" cy="469.9" r="1.8" fill="#000"/><ellipse cx="733.7" cy="482.6" rx="13.2" ry="11" fill="#000"/><ellipse cx="733.7" cy="482.6" rx="12.1" ry="9.9" fill="#a0a0a0"/><path d="M738,490 L742.3,494 L742,488 Z" fill="#a0a0a0"/><circle cx="730" cy="479.6" r="1.5" fill="#000"/><circle cx="737.8" cy="479.6" r="1.5" fill="#000"/></g><line x1="736.3" y1="462" x2="736.3" y2="494" stroke="#e08080" stroke-width="1.5" stroke-dasharray="1.5 2.5" opacity="0.6"/></svg>
<div class="t " style="left:757px;top:463.3px;font-size:29px;color:rgba(160,160,160,0.95);text-shadow:0 0 1.5px rgba(0,0,0,0.8);">公众号</div>
<svg style="position:absolute;left:0;top:0" width="1080" height="521"><circle cx="859.3" cy="479.1" r="2.4" fill="#a0a0a0"/></svg>
<div class="t " style="left:876.5px;top:465px;font-size:29px;letter-spacing:1.2px;color:rgba(160,160,160,0.95);text-shadow:0 0 1.5px rgba(0,0,0,0.8);">cannes8118</div>
</body></html>
